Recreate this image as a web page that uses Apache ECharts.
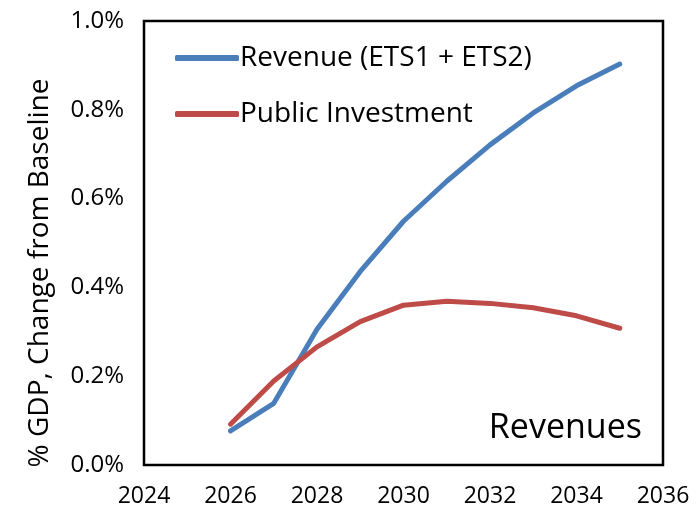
<!DOCTYPE html>
<html>
<head>
<meta charset="utf-8">
<script src="https://cdn.jsdelivr.net/npm/echarts@6/dist/echarts.min.js"></script>
<style>
  html, body { margin: 0; padding: 0; background: #fff; }
  #chart { width: 697px; height: 508px; }
</style>
</head>
<body>
<div id="chart"></div>
<script>
// years and % of GDP
var years = [2026, 2027, 2028, 2029, 2030, 2031, 2032, 2033, 2034, 2035];
var revenue = [0.077, 0.139, 0.306, 0.436, 0.549, 0.639, 0.721, 0.793, 0.854, 0.903];
var publicInvestment = [0.092, 0.189, 0.266, 0.323, 0.360, 0.369, 0.364, 0.354, 0.336, 0.308];
var seriesNames = ['Revenue (ETS1 + ETS2)', 'Public Investment'];

function pairs(vals) {
  return years.map(function (y, i) { return [y, vals[i]]; });
}

var font = 'Open Sans';
var chart = echarts.init(document.getElementById('chart'));

chart.setOption({
  animation: false,
  grid: {
    left: 144, right: 34, top: 21, bottom: 42,
    show: true, borderColor: '#000', borderWidth: 2.5,
    containLabel: false
  },
  legend: {
    orient: 'vertical',
    left: 170, top: 39,
    itemWidth: 64, itemHeight: 6, itemGap: 28,
    icon: 'roundRect',
    textStyle: { fontFamily: font, fontSize: 28, color: '#000', padding: [0, 0, 0, -4] },
    data: seriesNames
  },
  xAxis: {
    type: 'value', min: 2024, max: 2036, interval: 2,
    axisLine: { show: false },
    axisTick: { show: false },
    splitLine: { show: false },
    axisLabel: {
      fontFamily: font, fontSize: 23, color: '#000', margin: 20,
      formatter: function (v) { return String(v); }
    }
  },
  yAxis: {
    type: 'value', min: 0, max: 1, interval: 0.2,
    axisLine: { show: false },
    axisTick: { show: false },
    splitLine: { show: false },
    axisLabel: {
      fontFamily: font, fontSize: 24, color: '#000', margin: 20,
      formatter: function (v) { return v.toFixed(1) + '%'; }
    }
  },
  graphic: [
    {
      type: 'text',
      x: 40, y: 273, rotation: Math.PI / 2,
      style: {
        text: '% GDP, Change from Baseline', font: '28px "Open Sans"', fill: '#000',
        align: 'center', verticalAlign: 'middle'
      }
    },
    {
      type: 'text',
      right: 55, top: 411,
      style: { text: 'Revenues', font: '34px "Open Sans"', fill: '#000' }
    }
  ],
  series: [
    {
      name: seriesNames[0], type: 'line', data: pairs(revenue),
      symbol: 'none', lineStyle: { width: 5, color: '#4a7ebb', cap: 'round' },
      itemStyle: { color: '#4a7ebb' }
    },
    {
      name: seriesNames[1], type: 'line', data: pairs(publicInvestment),
      symbol: 'none', lineStyle: { width: 5, color: '#be4b48', cap: 'round' },
      itemStyle: { color: '#be4b48' }
    }
  ]
});
</script>
</body>
</html>
